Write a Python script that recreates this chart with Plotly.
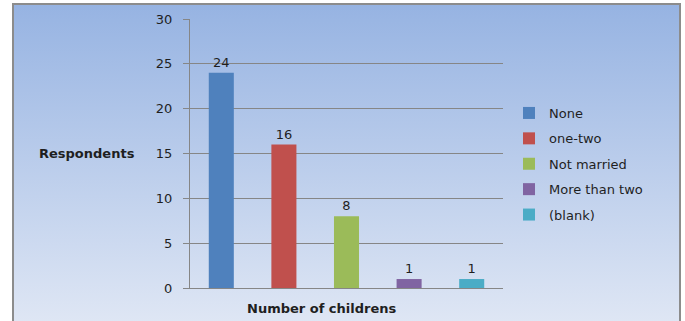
import base64
import plotly.graph_objects as go

# ---- data ----
series_names = ["None", "one-two", "Not married", "More than two", "(blank)"]
series_values = [24, 16, 8, 1, 1]
series_colors = ["#4f81bd", "#c0504d", "#9bbb59", "#8064a2", "#4bacc6"]
y_ticks = [0, 5, 10, 15, 20, 25, 30]
x_title = "Number of childrens"
y_title = "Respondents"

W, H = 685, 321
L, R, T, B = 190, 182, 19, 33
pw, ph = W - L - R, H - T - B

FONT = "DejaVu Sans"
TXT = "#1f1f1f"

fig = go.Figure()
for i, (name, val, col) in enumerate(zip(series_names, series_values, series_colors)):
    fig.add_trace(go.Bar(
        x=[0], y=[val], name=name, legendgroup=f"g{i}",
        marker=dict(color=col, line=dict(width=0)),
        text=[str(val)], textposition="outside",
        textfont=dict(family=FONT, size=13, color=TXT),
        cliponaxis=False,
    ))

# gradient chart-area background (Excel-style) as an SVG image
bx0, by0, bw, bh = 12, 3, 669, 330
svg = f'''<svg xmlns="http://www.w3.org/2000/svg" width="{bw}" height="{bh}" viewBox="0 0 {bw} {bh}" preserveAspectRatio="none">
<defs><linearGradient id="g" x1="0" y1="0" x2="0" y2="1">
<stop offset="0" stop-color="#96b3e2"/><stop offset="1" stop-color="#e1e8f5"/></linearGradient></defs>
<rect x="0" y="0" width="{bw}" height="{bh}" fill="url(#g)"/>
<path d="M1,{bh} V1 H{bw-1} V{bh}" fill="none" stroke="#8c8c8c" stroke-width="2"/>
</svg>'''
src = "data:image/svg+xml;base64," + base64.b64encode(svg.encode()).decode()

def px2x(px):
    return (px - L) / pw

def py2y(py):
    return (H - B - py) / ph

fig.add_layout_image(dict(
    source=src, xref="paper", yref="paper",
    x=px2x(bx0), y=py2y(by0), sizex=bw / pw, sizey=bh / ph,
    xanchor="left", yanchor="top", sizing="stretch", layer="below",
))

fig.add_annotation(text=f"<b>{y_title}</b>", xref="paper", yref="y",
                   x=px2x(137), y=15, xanchor="right", yanchor="middle",
                   showarrow=False, font=dict(family=FONT, size=13, color=TXT))
fig.add_annotation(text=f"<b>{x_title}</b>", xref="paper", yref="paper",
                   x=px2x(321.5), y=py2y(308), xanchor="center", yanchor="middle",
                   showarrow=False, font=dict(family=FONT, size=13, color=TXT))

fig.update_layout(
    width=W, height=H,
    margin=dict(l=L, r=R, t=T, b=B, pad=0),
    paper_bgcolor="white", plot_bgcolor="white",
    barmode="group", bargap=0, bargroupgap=0.6,
    showlegend=True,
    legend=dict(x=px2x(509), y=py2y(98), xanchor="left", yanchor="top",
                bgcolor="rgba(0,0,0,0)", font=dict(family=FONT, size=13, color=TXT),
                tracegroupgap=5.5, traceorder="grouped"),
    xaxis=dict(range=[-0.5, 0.5], showticklabels=False, ticks="",
               showgrid=False, zeroline=False, showline=True,
               linecolor="#868686", linewidth=1, fixedrange=True),
    yaxis=dict(range=[0, 30], tickvals=y_ticks, ticks="outside", ticklen=6,
               tickcolor="#868686", showgrid=True, gridcolor="#868686", gridwidth=1,
               zeroline=False, showline=True, linecolor="#868686", linewidth=1,
               tickfont=dict(family=FONT, size=13, color=TXT), ticklabelstandoff=8),
    font=dict(family=FONT, color=TXT),
)

fig.write_html("out.html")
